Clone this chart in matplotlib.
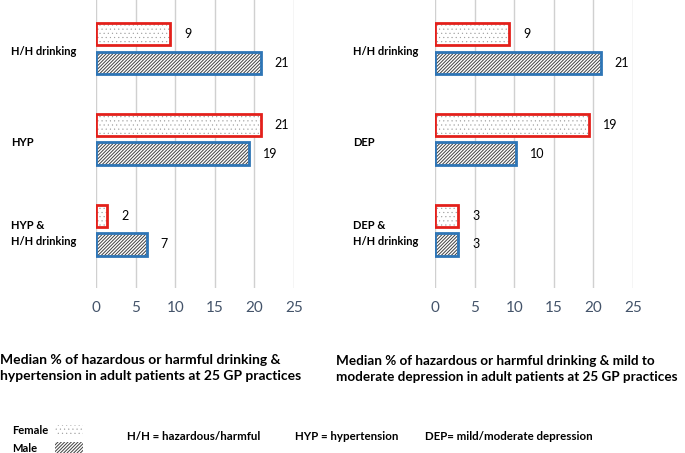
import matplotlib
matplotlib.use('Agg')
import matplotlib.pyplot as plt
import matplotlib.transforms as mtransforms
from matplotlib.patches import Rectangle

plt.rcParams['font.family'] = ['Lato', 'DejaVu Sans']

# data
cats_left = ['H/H drinking', 'HYP', 'HYP &\nH/H drinking']
female_left = [9.4, 20.8, 1.45]
male_left = [20.8, 19.3, 6.4]
female_left_lbl = ['9', '21', '2']
male_left_lbl = ['21', '19', '7']

cats_right = ['H/H drinking', 'DEP', 'DEP &\nH/H drinking']
female_right = [9.4, 19.5, 2.95]
male_right = [20.9, 10.2, 2.95]
female_right_lbl = ['9', '19', '3']
male_right_lbl = ['21', '10', '3']

xticks = [0, 5, 10, 15, 20, 25]

title_left = 'Median % of hazardous or harmful drinking &\nhypertension in adult patients at 25 GP practices'
title_right = 'Median % of hazardous or harmful drinking & mild to\nmoderate depression in adult patients at 25 GP practices'

RED = '#E3201B'
BLUE = '#2E75B6'
DOTS = '....'
LINES = '//////////'
W, H = 685, 453


def draw_panel(ax, cats, fem, mal, fem_lbl, mal_lbl):
    ys = range(len(cats))
    yf = [y - 0.155 for y in ys]
    ym = [y + 0.16 for y in ys]
    h = 0.245
    # hatch fill first, then coloured outline on top
    with plt.rc_context({'hatch.linewidth': 0.3}):
        ax.barh(yf, fem, height=h, color='white', edgecolor='#9a9a9a', hatch=DOTS, linewidth=0, zorder=2)
    ax.barh(yf, fem, height=h, color='none', edgecolor=RED, linewidth=2, zorder=3)
    with plt.rc_context({'hatch.linewidth': 0.7}):
        ax.barh(ym, mal, height=h, color='white', edgecolor='#404040', hatch=LINES, linewidth=0, zorder=2)
    ax.barh(ym, mal, height=h, color='none', edgecolor=BLUE, linewidth=2, zorder=3)
    for y, v, t in zip(yf, fem, fem_lbl):
        ax.annotate(t, (v, y), xytext=(10, 0), textcoords='offset points', va='center', fontsize=9)
    for y, v, t in zip(ym, mal, mal_lbl):
        ax.annotate(t, (v, y), xytext=(10, 0), textcoords='offset points', va='center', fontsize=9)
    ax.set_xlim(0, 25)
    ax.set_ylim(2.64, -0.53)
    ax.set_xticks(xticks)
    ax.tick_params(axis='x', length=0, pad=9, labelsize=11, labelcolor='#44546A')
    ax.set_yticks([])
    ax.grid(axis='x', color='#D0D0D0', linewidth=1, zorder=0)
    ax.set_axisbelow(True)
    for s in ax.spines.values():
        s.set_visible(False)


fig = plt.figure(figsize=(6.85, 4.53), dpi=100)
ax1 = fig.add_axes([96 / W, 1 - 288 / H, (294 - 96) / W, 288 / H])
ax2 = fig.add_axes([435 / W, 1 - 288 / H, (633 - 435) / W, 288 / H])

draw_panel(ax1, cats_left, female_left, male_left, female_left_lbl, male_left_lbl)
draw_panel(ax2, cats_right, female_right, male_right, female_right_lbl, male_right_lbl)

# category labels, left aligned near the figure edge
for ax, cats, x0 in [(ax1, cats_left, 11), (ax2, cats_right, 353)]:
    tr = mtransforms.blended_transform_factory(fig.transFigure, ax.transData)
    for i, c in enumerate(cats):
        ax.text(x0 / W, i + 0.04, c, transform=tr, ha='left', va='center',
                fontsize=8, fontweight='bold', linespacing=1.45)

fig.text(0 / W, 1 - 368 / H, title_left, ha='left', va='center', fontsize=10,
         fontweight='bold', linespacing=1.4)
fig.text(336 / W, 1 - 369 / H, title_right, ha='left', va='center', fontsize=9.7,
         fontweight='bold', linespacing=1.45)

# legend at the bottom
fig.text(12 / W, 1 - 430 / H, 'Female', ha='left', va='center', fontsize=8, fontweight='bold')
fig.text(12 / W, 1 - 448 / H, 'Male', ha='left', va='center', fontsize=8, fontweight='bold')
with plt.rc_context({'hatch.linewidth': 0.3}):
    fig.patches.append(Rectangle((55 / W, 1 - 436 / H), 28 / W, 11 / H, transform=fig.transFigure,
                                 facecolor='white', edgecolor='#9a9a9a', hatch=DOTS, linewidth=0))
with plt.rc_context({'hatch.linewidth': 0.7}):
    fig.patches.append(Rectangle((55 / W, 1 - 453 / H), 28 / W, 11 / H, transform=fig.transFigure,
                                 facecolor='white', edgecolor='#404040', hatch=LINES, linewidth=0))
fig.text(127 / W, 1 - 436 / H, 'H/H = hazardous/harmful', ha='left', va='center', fontsize=8.3, fontweight='bold')
fig.text(295 / W, 1 - 436 / H, 'HYP = hypertension', ha='left', va='center', fontsize=8.3, fontweight='bold')
fig.text(425 / W, 1 - 436 / H, 'DEP= mild/moderate depression', ha='left', va='center', fontsize=8.3, fontweight='bold')

fig.savefig('out.png', dpi=100)
